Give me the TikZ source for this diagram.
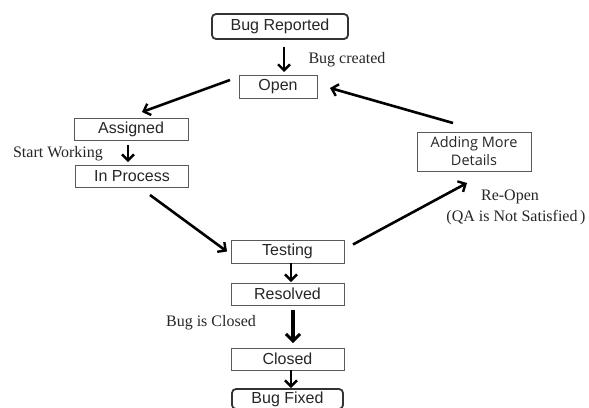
\documentclass[tikz,border=0pt]{standalone}
\usepackage{fontspec}
\setmainfont{Liberation Serif}
\newfontfamily\boxfont{Liberation Sans}
\newfontfamily\addfont{Open Sans}
\usetikzlibrary{arrows.meta}
\begin{document}
\begin{tikzpicture}[x=1pt,y=-1pt,
  every node/.style={inner sep=0pt,outer sep=0pt},
  statebox/.style={draw=black!65,line width=0.9pt,minimum height=23pt,font=\boxfont\fontsize{16}{18}\selectfont,text=black!85},
  endbox/.style={draw=black!80,line width=1.8pt,rounded corners=4pt,minimum height=25pt,font=\boxfont\fontsize{16}{18}\selectfont,text=black!85},
  lbl/.style={font=\fontsize{16}{18}\selectfont,text=black!85},
  arr/.style={line width=2.6pt,-{Straight Barb[length=6pt,width=12pt,line width=2.4pt]}},
  bigarr/.style={line width=4pt,-{Straight Barb[length=7pt,width=14pt,line width=3pt]}}]
\clip (0,0) rectangle (589,407);
\fill[white] (0,0) rectangle (589,407);
% nodes
\node[endbox,minimum width=136pt] (br) at (280,26.5) {Bug Reported};
\node[statebox,minimum width=78pt] (open) at (278,86.5) {Open};
\node[statebox,minimum width=114pt,minimum height=22pt] (assigned) at (131,129) {Assigned};
\node[statebox,minimum width=113pt,minimum height=22pt] (inproc) at (132,176) {In Process};
\node[statebox,minimum width=113pt] (testing) at (287.5,251.5) {Testing};
\node[statebox,minimum width=113pt,minimum height=22pt] (resolved) at (287.5,294) {Resolved};
\node[statebox,minimum width=113pt,minimum height=22pt] (closed) at (287.5,359) {Closed};
\node[endbox,minimum width=111pt,minimum height=20pt] (fixed) at (287.5,399) {Bug Fixed};
\node[statebox,minimum width=114pt,minimum height=39pt,align=center,font=\addfont\fontsize{14.5}{18}\selectfont] (adding) at (474,151.5) {Adding More\\Details};
% labels
\node[lbl] (lcreated) at (347,60) {Bug created};
\node[lbl] (lstart) at (58,154) {Start Working};
\node[lbl] (lreopen) at (510,197) {Re-Open};
\node[lbl] (lqa) at (516,218) {(QA is Not Satisfied\,)};
\node[lbl] (lclosed) at (211,323) {Bug is Closed};
% connectors
\draw[arr] ([shift={(4,8)}]br.south) -- ([shift={(6,-3)}]open.north);
\draw[arr] ([shift={(-9,-6.5)}]open.west) -- ([shift={(11,-6)}]assigned.north);
\draw[arr] ([shift={(-3,5)}]assigned.south) -- ([shift={(-4,-3)}]inproc.north);
\draw[arr] ([shift={(18,8)}]inproc.south) -- ([shift={(-4,0)}]testing.west);
\draw[arr] ([shift={(9,-7)}]testing.east) -- ([shift={(-7,12)}]adding.south);
\draw[arr] ([shift={(-21,-9)}]adding.north) -- ([shift={(13,1.5)}]open.east);
\draw[arr] ([shift={(3.5,0)}]testing.south) -- ([shift={(3.5,-1)}]resolved.north);
\draw[bigarr] ([shift={(5.5,5)}]resolved.south) -- ([shift={(5.5,-5)}]closed.north);
\draw[arr] ([shift={(3.5,0)}]closed.south) -- ([shift={(3.5,-1)}]fixed.north);
\end{tikzpicture}
\end{document}
